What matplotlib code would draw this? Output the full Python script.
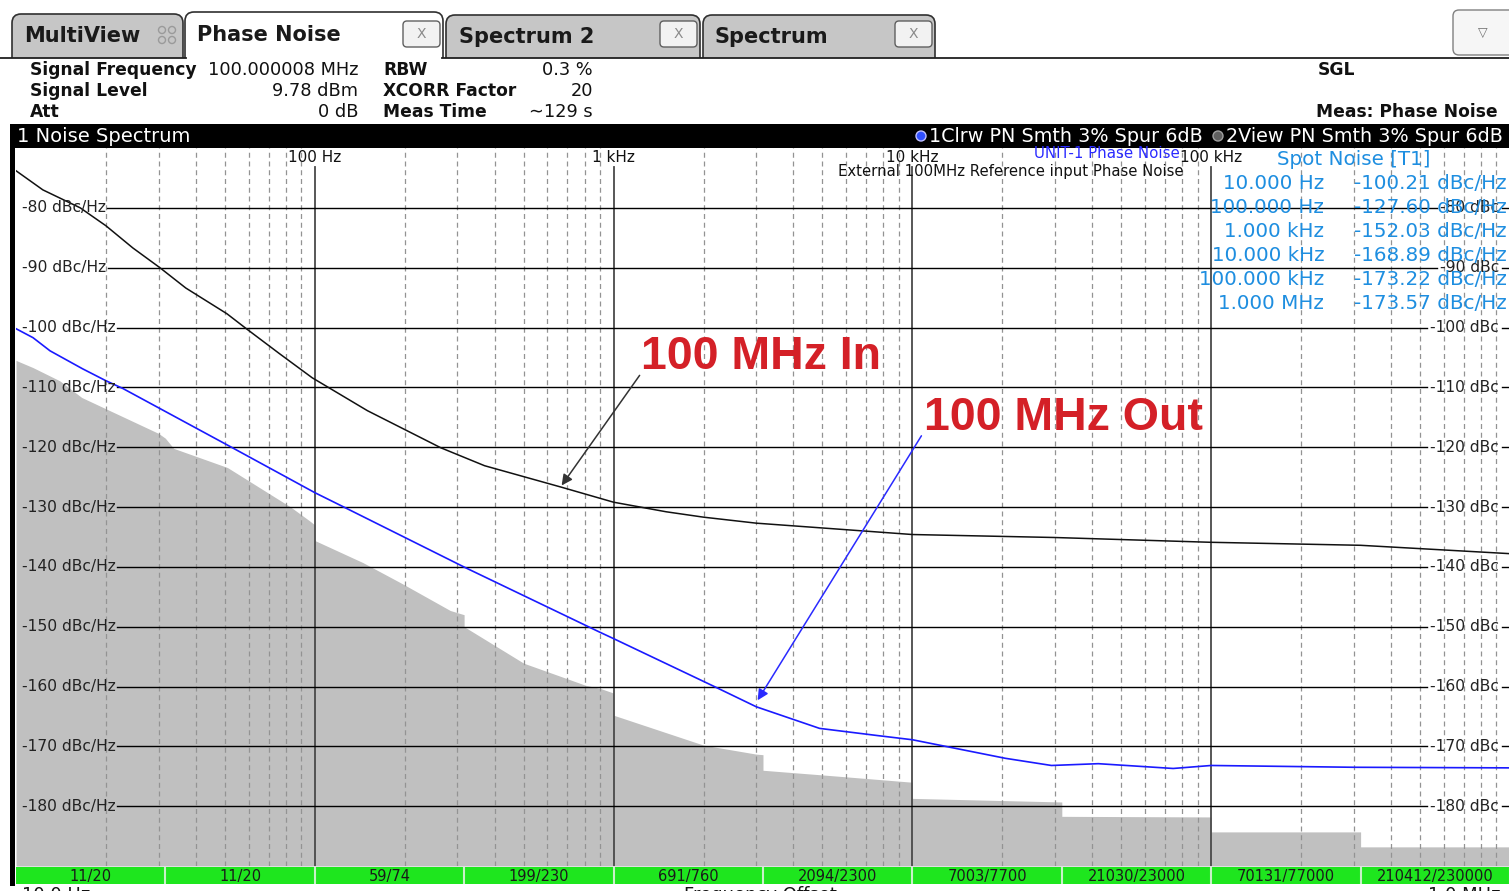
import numpy as np
import matplotlib
matplotlib.use('Agg')
import matplotlib.pyplot as plt
from matplotlib.patches import Rectangle, FancyBboxPatch, Circle

W, H = 1509, 891

# 100 MHz reference input phase noise (black trace)
in_freq = [10, 12.3, 16.4, 20, 24.6, 30.3, 37, 50.8, 59, 76.3, 98, 150, 264, 370, 670,
           1000, 1500, 2000, 3000, 10000, 30000, 100000, 316000, 1000000]
in_db = [-73.8, -77.0, -80.0, -83.0, -86.7, -90.0, -93.4, -97.7, -100.2, -104.4, -108.4,
         -113.9, -120.1, -123.1, -126.7, -129.2, -130.8, -131.7, -132.7, -134.6, -135.1,
         -135.9, -136.4, -137.8]

# 100 MHz output phase noise (blue trace)
out_freq = [10, 11.4, 13, 16.7, 20, 22.8, 53, 100, 125, 318, 635, 897, 1000, 2193,
            3006, 4890, 7640, 10000, 20470, 29200, 41900, 74600, 100000, 300000, 1000000]
out_db = [-100.2, -101.7, -103.9, -106.9, -108.9, -110.2, -120.1, -127.6, -130.0,
          -140.1, -147.3, -150.9, -152.0, -160.1, -163.4, -167.0, -168.2, -168.9, -172.0,
          -173.2, -172.9, -173.7, -173.2, -173.5, -173.6]

# cross-correlation sensitivity floor (gray area)
floor_freq = [10, 11.4, 14, 16.6, 30, 31.6, 33.7, 51, 83, 96, 100, 100, 145, 196, 284,
              316, 316, 500, 806, 900, 1000, 1000, 2000, 3000, 3162, 3162, 5360, 10000,
              10000, 31623, 31623, 100000, 100000, 316228, 316228, 1000000]
floor_db = [-105.5, -106.7, -108.9, -111.7, -117.7, -118.5, -120.2, -123.4, -130.0, -132.3,
            -133.0, -135.6, -139.3, -142.8, -147.3, -148.0, -150.0, -156.1, -159.8, -160.3,
            -161.1, -164.8, -169.8, -171.3, -171.4, -174.0, -174.9, -176.0, -178.7, -179.3,
            -181.7, -181.8, -184.3, -184.3, -186.8, -186.8]

# measurement ranges and xcorr counts (green bar)
seg_edges = [10, 31.62, 100, 316.2, 1000, 3162, 10000, 31620, 100000, 316200, 1000000]
xcorr_labels = ['11/20', '11/20', '59/74', '199/230', '691/760', '2094/2300',
                '7003/7700', '21030/23000', '70131/77000', '210412/230000']

levels = [-80, -90, -100, -110, -120, -130, -140, -150, -160, -170, -180]
decades = [100, 1000, 10000, 100000]
decade_labels = ['100 Hz', '1 kHz', '10 kHz', '100 kHz']

spot_freq = ['10.000 Hz', '100.000 Hz', '1.000 kHz', '10.000 kHz', '100.000 kHz', '1.000 MHz']
spot_val = ['-100.21 dBc/Hz', '-127.60 dBc/Hz', '-152.03 dBc/Hz', '-168.89 dBc/Hz',
            '-173.22 dBc/Hz', '-173.57 dBc/Hz']

fig = plt.figure(figsize=(W / 100, H / 100), dpi=100)
fig.patch.set_facecolor('white')

# overlay in pixel coordinates for the instrument frame
ov = fig.add_axes([0, 0, 1, 1])
ov.set_xlim(0, W)
ov.set_ylim(H, 0)
ov.set_axis_off()

def tab(x0, x1, y0, y1, fc):
    ov.add_patch(FancyBboxPatch((x0, y0), x1 - x0, y1 - y0 + 12,
                                boxstyle='round,pad=0,rounding_size=9',
                                fc=fc, ec='#303030', lw=1.2))

def close_btn(x0, x1, y0, y1):
    ov.add_patch(FancyBboxPatch((x0, y0), x1 - x0, y1 - y0,
                                boxstyle='round,pad=0,rounding_size=4',
                                fc='#f2f2f2', ec='#606060', lw=1.0))
    ov.text((x0 + x1) / 2, (y0 + y1) / 2, 'X', ha='center', va='center',
            fontsize=10, color='#8a8a8a')

tab(12, 183, 14, 57, '#c6c6c6')
tab(446, 700, 15, 57, '#c6c6c6')
tab(703, 935, 15, 57, '#c6c6c6')
tab(185, 443, 12, 57, 'white')
ov.add_patch(Rectangle((0, 58), W, 14, fc='white', ec='none'))
ov.plot([0, 186], [57.5, 57.5], color='#202020', lw=1.3)
ov.plot([442, W], [57.5, 57.5], color='#202020', lw=1.3)
close_btn(403, 440, 21, 47)
close_btn(660, 697, 21, 47)
close_btn(895, 932, 21, 47)
for cx, cy in [(162, 30), (172, 30), (162, 40), (172, 40)]:
    ov.add_patch(Circle((cx, cy), 3.5, fc='none', ec='#9a9a9a', lw=1.0))
ov.add_patch(FancyBboxPatch((1453, 10), 70, 45, boxstyle='round,pad=0,rounding_size=6',
                            fc='#f6f6f6', ec='#808080', lw=1.0))
ov.text(1483, 33, '\u25bd', ha='center', va='center', fontsize=9, color='#707070')

ov.text(24, 36, 'MultiView', fontsize=15, fontweight='bold', va='center', color='#1a1a1a')
ov.text(197, 35, 'Phase Noise', fontsize=15, fontweight='bold', va='center', color='#1a1a1a')
ov.text(459, 37, 'Spectrum 2', fontsize=15, fontweight='bold', va='center', color='#1a1a1a')
ov.text(715, 37, 'Spectrum', fontsize=15, fontweight='bold', va='center', color='#1a1a1a')

info_l = [('Signal Frequency', 30, 70), ('Signal Level', 30, 91), ('Att', 30, 112),
          ('RBW', 383, 70), ('XCORR Factor', 383, 91), ('Meas Time', 383, 112)]
info_v = [('100.000008 MHz', 358, 70), ('9.78 dBm', 358, 91), ('0 dB', 358, 112),
          ('0.3 %', 593, 70), ('20', 593, 91), ('\u223c129 s', 593, 112)]
for s, x, y in info_l:
    ov.text(x, y, s, fontsize=12.3, fontweight='bold', va='center', color='#111')
for s, x, y in info_v:
    ov.text(x, y, s, fontsize=12.8, va='center', ha='right', color='#111')
ov.text(1318, 70, 'SGL', fontsize=12.3, fontweight='bold', va='center', color='#111')
ov.text(1498, 112, 'Meas: Phase Noise', fontsize=12.3, fontweight='bold', va='center',
        ha='right', color='#111')

# black title bar and left border
ov.add_patch(Rectangle((12, 124), W - 12, 24, fc='black', ec='none'))
ov.add_patch(Rectangle((10, 124), 5, 762, fc='black', ec='none'))
ov.text(17, 136, '1 Noise Spectrum', fontsize=14, color='white', va='center')
ov.add_patch(Circle((921, 136), 5, fc='#3050ff', ec='#c0c0ff', lw=1))
ov.text(929, 136, '1Clrw PN Smth 3% Spur 6dB', fontsize=13.8, color='white', va='center')
ov.add_patch(Circle((1218, 136), 5, fc='#606060', ec='#a0a0a0', lw=1))
ov.text(1226, 136, '2View PN Smth 3% Spur 6dB', fontsize=13.8, color='white', va='center')

ov.text(22, 886, '10.0 Hz', fontsize=13, va='top', color='#111')
ov.text(760, 886, 'Frequency Offset', fontsize=13, va='top', ha='center', color='#111')
ov.text(1500, 886, '1.0 MHz', fontsize=13, va='top', ha='right', color='#111')

# main plot
ax = fig.add_axes([16 / W, 1 - 866 / H, (1510 - 16) / W, (866 - 148) / H])
ax.set_xscale('log')
ax.set_xlim(10, 1e6)
ax.set_ylim(-190, -70)
ax.set_axis_off()

ax.fill_between(floor_freq, floor_db, -190, color='#c0c0c0', lw=0, zorder=1)

for k in range(1, 6):
    for m in range(2, 10):
        ax.axvline(m * 10 ** k, color='#939393', lw=0.9, ls=(0, (4, 3)), zorder=2)
for f, lab in zip(decades, decade_labels):
    ax.axvline(f, ymax=0.9735, color='#4a4a4a', lw=1.3, zorder=2)
    ax.text(f, -71.6, lab, ha='center', va='center', fontsize=11, color='#111', zorder=4)

ytr = ax.get_yaxis_transform()
lefts, rights = [], []
for lv in levels:
    lefts.append(ax.text(0.004, lv, '%d dBc/Hz' % lv, transform=ytr, va='center',
                         ha='left', fontsize=11.2, color='#222', zorder=4))
    rights.append(ax.text(0.9926, lv, '%d dBc' % lv, transform=ytr, va='center',
                          ha='right', fontsize=11.2, color='#222', zorder=4))
fig.canvas.draw()
inv = ax.transAxes.inverted()
for lv, tl, tr in zip(levels, lefts, rights):
    bl = tl.get_window_extent()
    br = tr.get_window_extent()
    x_l = inv.transform((bl.x1, 0))[0]
    x_r0 = inv.transform((br.x0, 0))[0]
    x_r1 = inv.transform((br.x1, 0))[0]
    ax.axhline(lv, xmin=x_l + 0.001, xmax=x_r0 - 0.002, color='black', lw=1.0, zorder=2)
    ax.axhline(lv, xmin=x_r1 + 0.002, xmax=1, color='black', lw=1.0, zorder=2)

ax.plot(in_freq, in_db, color='#111111', lw=1.1, zorder=3)
ax.plot(out_freq, out_db, color='#1a1aff', lw=1.2, zorder=3)

ax.text(4.46e4, -71.0, 'UNIT-1 Phase Noise', color='#2a2aff', fontsize=10.8,
        ha='center', va='center', zorder=4)
ax.text(2.13e4, -74.0, 'External 100MHz Reference input Phase Noise', color='#111',
        fontsize=10.7, ha='center', va='center', zorder=4)

ax.text(1.66e5, -72.0, 'Spot Noise [T1]', color='#1e8ee0', fontsize=14.3, ha='left',
        va='center', zorder=5)
for i, (sf, sv) in enumerate(zip(spot_freq, spot_val)):
    yv = -76.0 - i * 4.0
    ax.text(2.39e5, yv, sf, color='#1e8ee0', fontsize=14.3, ha='right', va='center', zorder=5)
    ax.text(3.0e5, yv, sv, color='#1e8ee0', fontsize=14.3, ha='left', va='center', zorder=5)

ax.annotate('', xy=(670, -126.4), xytext=(1222, -108.0),
            arrowprops=dict(arrowstyle='-|>', color='#333333', lw=1.1,
                            mutation_scale=16, shrinkA=0, shrinkB=0), zorder=5)
ax.annotate('', xy=(3035, -162.3), xytext=(10720, -118.1),
            arrowprops=dict(arrowstyle='-|>', color='#2a2aff', lw=1.1,
                            mutation_scale=16, shrinkA=0, shrinkB=0), zorder=5)
ax.text(1234, -105.0, '100 MHz In', color='#d42027', fontsize=33.5, fontweight='bold',
        family='Liberation Sans', ha='left', va='center', zorder=5)
ax.text(10960, -115.2, '100 MHz Out', color='#d42027', fontsize=33.5, fontweight='bold',
        family='Liberation Sans', ha='left', va='center', zorder=5)

# green xcorr bar
gax = fig.add_axes([16 / W, 1 - 884 / H, (1510 - 16) / W, 17 / H])
gax.set_xscale('log')
gax.set_xlim(10, 1e6)
gax.set_ylim(0, 1)
gax.set_axis_off()
for a, b, lab in zip(seg_edges[:-1], seg_edges[1:], xcorr_labels):
    gax.axvspan(a, b, color='#1ee61e', lw=0)
    gax.axvline(b, color='#c8f0c8', lw=1.5)
    gax.text(np.sqrt(a * b), 0.45, lab, ha='center', va='center', fontsize=10.5,
             color='#1a1a1a')

fig.savefig('out.png', dpi=100)
